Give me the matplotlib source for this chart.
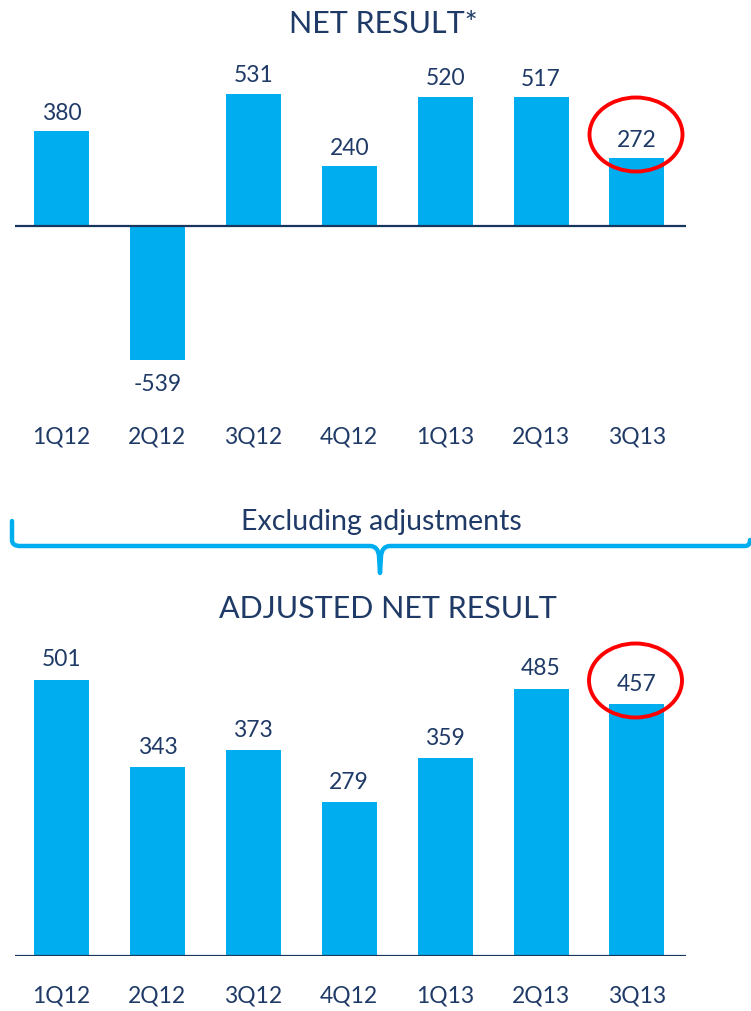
import matplotlib
matplotlib.use("Agg")
import matplotlib.pyplot as plt
from matplotlib.patches import Ellipse, PathPatch
from matplotlib.path import Path

quarters = ["1Q12", "2Q12", "3Q12", "4Q12", "1Q13", "2Q13", "3Q13"]
net_result = [380, -539, 531, 240, 520, 517, 272]
adjusted_net_result = [501, 343, 373, 279, 359, 485, 457]

title_top = "NET RESULT*"
title_bottom = "ADJUSTED NET RESULT"
brace_text = "Excluding adjustments"

BAR = "#00AEEF"
TXT = "#1F3A66"
LINE = "#17375E"
RED = "#FF0000"

plt.rcParams['font.family'] = ['Lato', 'DejaVu Sans']

W, H = 751, 1011
fig = plt.figure(figsize=(W / 100, H / 100), dpi=100)


def fx(px):
    return px / W


def fy(py):
    return 1 - py / H


x0c, dx = 61.5, 95.9
xl = ((15 - x0c) / dx, (686 - x0c) / dx)
bw = 55 / dx
xs = list(range(len(quarters)))


def make_axes(top_px, bottom_px, base_px, scale, values, label_off, pad):
    ax = fig.add_axes([fx(15), fy(bottom_px), fx(686) - fx(15), (bottom_px - top_px) / H])
    ax.set_xlim(*xl)
    ax.set_ylim(-(bottom_px - base_px) / scale, (base_px - top_px) / scale)
    ax.bar(xs, values, width=bw, color=BAR, zorder=2)
    ax.axhline(0, color=LINE, lw=1.6, zorder=3)
    for s in ax.spines.values():
        s.set_visible(False)
    ax.set_yticks([])
    ax.set_xticks(xs)
    ax.set_xticklabels(quarters, fontsize=16.5, color=TXT)
    ax.tick_params(axis='x', length=0, pad=pad)
    for x, v in zip(xs, values):
        off = label_off if v >= 0 else -24 * 0.72
        ax.annotate(f"{v}", (x, v), xytext=(0, off), textcoords='offset points',
                    ha='center', va='center', fontsize=16.5, color=TXT)
    return ax


ax1 = make_axes(40, 415, 226, 0.249, net_result, 18 * 0.72, 8)
ax2 = make_axes(640, 956, 956, 0.551, adjusted_net_result, 20 * 0.72, 21)

fig.text(fx(383), fy(24), title_top, ha='center', va='center', fontsize=22, color=TXT)
fig.text(fx(388), fy(609), title_bottom, ha='center', va='center', fontsize=22, color=TXT)
fig.text(fx(381), fy(522), brace_text, ha='center', va='center', fontsize=20.5, color=TXT)

# brace
pts = [(12, 521), (12, 540), (12, 546), (20, 546), (370, 546), (378, 546),
       (379, 556), (380, 573), (381, 556), (382, 546), (390, 546), (745, 546),
       (750, 546), (750, 540)]
codes = [Path.MOVETO, Path.LINETO, Path.CURVE3, Path.CURVE3, Path.LINETO,
         Path.CURVE3, Path.CURVE3, Path.LINETO, Path.LINETO, Path.CURVE3, Path.CURVE3,
         Path.LINETO, Path.CURVE3, Path.CURVE3]
path = Path([(fx(a), fy(b)) for a, b in pts], codes)
fig.add_artist(PathPatch(path, fill=False, edgecolor=BAR, lw=3.2, transform=fig.transFigure,
                         capstyle='round', joinstyle='round'))

for cx, cy in [(636, 134.5), (635.5, 680.5)]:
    fig.add_artist(Ellipse((fx(cx), fy(cy)), 93 / W, 74 / H, fill=False, edgecolor=RED,
                           lw=2.8, transform=fig.transFigure))

fig.savefig("out.png", dpi=100)
